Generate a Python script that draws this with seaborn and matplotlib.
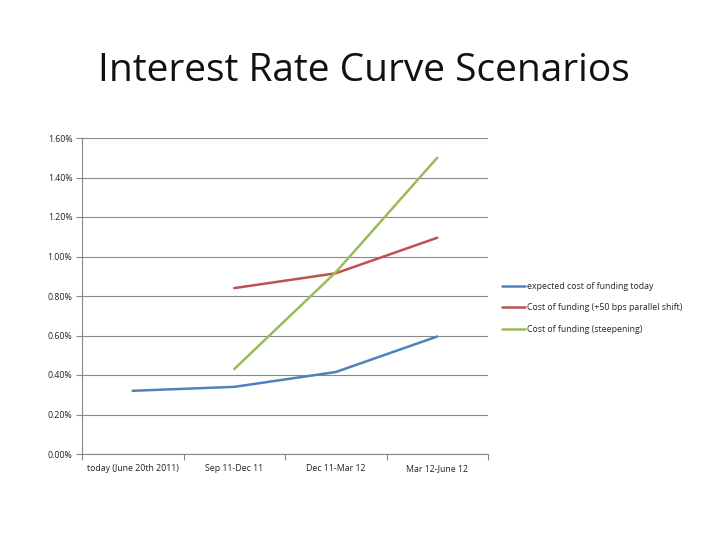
import numpy as np
import pandas as pd
import matplotlib
matplotlib.use("Agg")
import matplotlib.pyplot as plt
import seaborn as sns
from matplotlib.ticker import FuncFormatter, FixedLocator

categories = ["today (June 20th 2011)", "Sep 11-Dec 11", "Dec 11-Mar 12", "Mar 12-June 12"]
expected_today = [0.32, 0.34, 0.415, 0.595]
parallel_shift = [np.nan, 0.84, 0.915, 1.095]
steepening = [np.nan, 0.43, 0.92, 1.50]
series_names = ["expected cost of funding today",
                "Cost of funding (+50 bps parallel shift)",
                "Cost of funding (steepening)"]
colors = ["#4F81BD", "#C0504D", "#9BBB59"]

rows = []
for name, vals in zip(series_names, [expected_today, parallel_shift, steepening]):
    for i, v in enumerate(vals):
        if not np.isnan(v):
            rows.append({"pos": i, "value": v, "series": name})
df = pd.DataFrame(rows)

sns.set_theme(style="white")
plt.rcParams['font.family'] = ['Open Sans', 'DejaVu Sans']

fig = plt.figure(figsize=(7.28, 5.46), dpi=100)
ax = fig.add_axes([82/728, 92/546, 406/728, 316/546])

sns.lineplot(data=df, x="pos", y="value", hue="series", hue_order=series_names,
             palette=colors, linewidth=1.8, ax=ax, legend=True)

ax.set_xlim(-0.5, 3.5)
ax.set_ylim(0, 1.6)
ax.set_yticks(np.arange(0, 1.61, 0.2))
ax.yaxis.set_major_formatter(FuncFormatter(lambda v, p: f"{v:.2f}%"))
ax.set_xticks(range(len(categories)))
ax.set_xticklabels(categories)
ax.xaxis.set_minor_locator(FixedLocator(np.arange(-0.5, 3.6, 1.0)))
ax.tick_params(axis="x", which="major", length=0, labelsize=6.3, pad=7, colors="#222222")
ax.tick_params(axis="x", which="minor", length=4, width=0.8, color="#888888", direction="out", bottom=True)
ax.tick_params(axis="y", length=4, width=0.8, color="#888888", direction="out", left=True,
               labelsize=6.3, pad=3, labelcolor="#222222")
ax.grid(axis="y", color="#888888", linewidth=0.8)
ax.set_axisbelow(True)
for s in ["top", "right"]:
    ax.spines[s].set_visible(False)
for s in ["left", "bottom"]:
    ax.spines[s].set_color("#888888")
    ax.spines[s].set_linewidth(0.8)
ax.set_xlabel("")
ax.set_ylabel("")

leg = ax.legend(loc="upper left", bbox_to_anchor=(1.015, 0.57), frameon=False,
                fontsize=6.3, handlelength=2.6, handletextpad=0.25, labelspacing=1.45)
for line in leg.get_lines():
    line.set_linewidth(1.8)

fig.text(0.5, 0.87, "Interest Rate Curve Scenarios", ha="center", va="center",
         fontsize=28, color="#111111")

fig.savefig("out.png", dpi=100, facecolor="white")
